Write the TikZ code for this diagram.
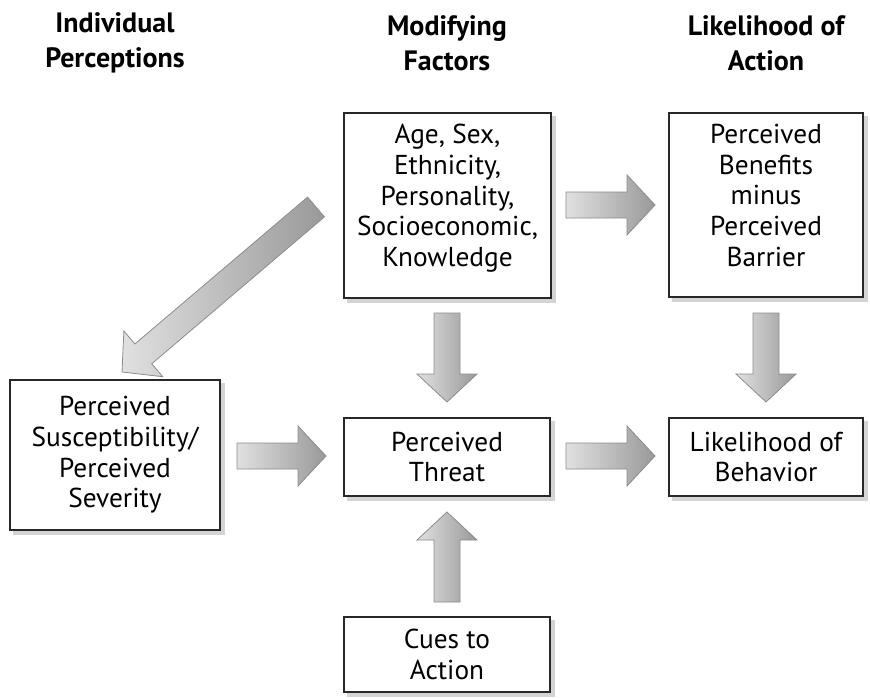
\documentclass[tikz,border=0pt]{standalone}
\usepackage{fontspec}
\setmainfont{PT Sans}
\usetikzlibrary{calc,backgrounds}

\tikzset{every picture/.style={line width=0.75pt}}
\tikzset{
  box/.style={draw={rgb,255:red,40;green,40;blue,40}, line width=1.4pt, fill=white, align=center,
    inner sep=0pt, font=\fontsize{20.5}{23}\selectfont},
  shade box/.style={fill=black!17},
  head/.style={align=center, font=\fontsize{21}{26}\selectfont\bfseries},
  blkarrow/.style={draw=black!45, line width=0.6pt, left color=black!12, right color=black!40}
}
% block arrow from tail #1 to tip #2
\newcommand{\blockarrow}[2]{%
  \coordinate (ba-p) at ($(#2)!21pt!(#1)$);
  \draw[blkarrow] ($(#1)!9.75pt!90:(#2)$) -- ($(ba-p)!9.75pt!-90:(#1)$) -- ($(ba-p)!22.5pt!-90:(#1)$) -- (#2) -- ($(ba-p)!22.5pt!90:(#1)$) -- ($(ba-p)!9.75pt!90:(#1)$) -- ($(#1)!9.75pt!-90:(#2)$) -- cycle;
}
% light shadow behind a box
\newcommand{\boxshade}[1]{%
  \fill[shade box] ($(#1.north west)+(4,4)$) rectangle ($(#1.south east)+(4,4)$);
}

\begin{document}
\begin{tikzpicture}[x=0.75pt,y=0.75pt,yscale=-1,xscale=1]
\useasboundingbox (0,0) rectangle (870,697);

% Column headings
\node[head] (h-indiv) at (115,43) {Individual\\Perceptions};
\node[head] (h-modif) at (447,43) {Modifying\\Factors};
\node[head] (h-likel) at (766,43) {Likelihood of\\Action};

% Boxes
\node[box, minimum width=155.25pt, minimum height=138.75pt, text depth=15pt] (age) at (447.5,205.5) {Age, Sex,\\Ethnicity,\\Personality,\\Socioeconomic,\\Knowledge};
\node[box, minimum width=145.5pt, minimum height=138pt, text depth=15pt] (benefits) at (766,205) {Perceived\\Benefits\\minus\\Perceived\\Barrier};
\node[box, minimum width=157.5pt, minimum height=112.5pt] (suscept) at (115,455) {Perceived\\Susceptibility/\\Perceived\\Severity};
\node[box, minimum width=154.5pt, minimum height=58.5pt] (threat) at (447,457) {Perceived\\Threat};
\node[box, minimum width=145.5pt, minimum height=58.5pt] (behavior) at (766,457) {Likelihood of\\Behavior};
\node[box, minimum width=154.5pt, minimum height=56.25pt] (cues) at (447,654.5) {Cues to\\Action};

\begin{scope}[on background layer]
\boxshade{age}
\boxshade{benefits}
\boxshade{suscept}
\boxshade{threat}
\boxshade{behavior}
\boxshade{cues}
\end{scope}

% Arrow ends
\coordinate (diag-t) at (316,207);   \coordinate (diag-h) at (122,372);
\coordinate (sus-t) at (237,456);    \coordinate (sus-h) at (326,456);
\coordinate (thr-t) at (566,456);    \coordinate (thr-h) at (655,456);
\coordinate (age-t) at (566,205);    \coordinate (age-h) at (655,205);
\coordinate (mod-t) at (447,313);    \coordinate (mod-h) at (447,402);
\coordinate (ben-t) at (766,313);    \coordinate (ben-h) at (766,402);
\coordinate (cue-t) at (447,602);    \coordinate (cue-h) at (447,512);

\blockarrow{diag-t}{diag-h}
\blockarrow{sus-t}{sus-h}
\blockarrow{thr-t}{thr-h}
\blockarrow{age-t}{age-h}
\blockarrow{mod-t}{mod-h}
\blockarrow{ben-t}{ben-h}
\blockarrow{cue-t}{cue-h}

\end{tikzpicture}
\end{document}
